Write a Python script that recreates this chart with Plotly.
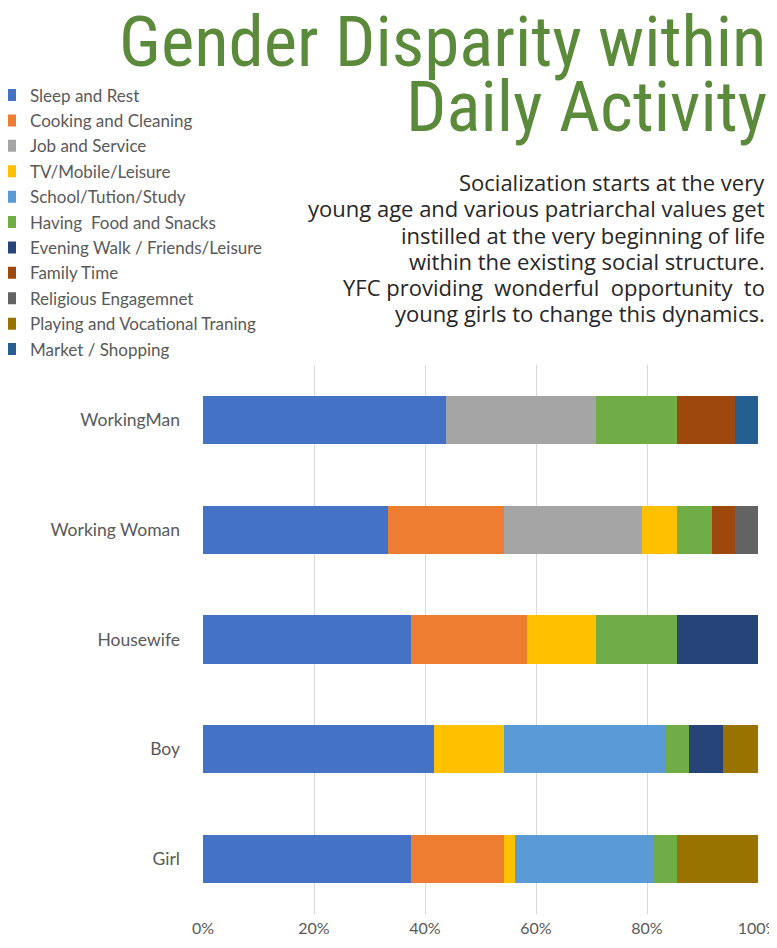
import plotly.graph_objects as go

# Hours per day (stack normalised to 100%)
categories = ["WorkingMan", "Working Woman", "Housewife", "Boy", "Girl"]

activities = [
    "Sleep and Rest",
    "Cooking and Cleaning",
    "Job and Service",
    "TV/Mobile/Leisure",
    "School/Tution/Study",
    "Having  Food and Snacks",
    "Evening Walk / Friends/Leisure",
    "Family Time",
    "Religious Engagemnet",
    "Playing and Vocational Traning",
    "Market / Shopping",
]

sleep_rest      = [10.5, 8.0, 9.0, 10.0, 9.0]
cooking         = [0.0, 5.0, 5.0, 0.0, 4.0]
job_service     = [6.5, 6.0, 0.0, 0.0, 0.0]
tv_mobile       = [0.0, 1.5, 3.0, 3.0, 0.5]
school_study    = [0.0, 0.0, 0.0, 7.0, 6.0]
food_snacks     = [3.5, 1.5, 3.5, 1.0, 1.0]
evening_walk    = [0.0, 0.0, 3.5, 1.5, 0.0]
family_time     = [2.5, 1.0, 0.0, 0.0, 0.0]
religious       = [0.0, 1.0, 0.0, 0.0, 0.0]
playing_voc     = [0.0, 0.0, 0.0, 1.5, 3.5]
market_shopping = [1.0, 0.0, 0.0, 0.0, 0.0]

series = [sleep_rest, cooking, job_service, tv_mobile, school_study, food_snacks,
          evening_walk, family_time, religious, playing_voc, market_shopping]

colors = ["#4472C4", "#ED7D31", "#A5A5A5", "#FFC000", "#5B9BD5", "#70AD47",
          "#264478", "#9E480E", "#636363", "#997300", "#255E91"]

tick_vals = [0, 20, 40, 60, 80, 100]
tick_text = ["0%", "20%", "40%", "60%", "80%", "100%"]

title_lines = ["Gender Disparity within", "Daily Activity"]
para_lines = [
    "Socialization starts at the very",
    "young age and various patriarchal values get",
    "instilled at the very beginning of life",
    "within the existing social structure.",
    "YFC providing  wonderful  opportunity  to",
    "young girls to change this dynamics.",
]

# the page body has an 8px margin, so the figure is offset by it
OFF = 8
W, H = 777 - OFF, 948 - 2 * OFF - 4
ML, MR, MT, MB = 195, 19, 357, 22
PW, PH = W - ML - MR, H - MT - MB


def px_x(x):
    return (x - OFF - ML) / PW


def px_y(y):
    return (H - MB - (y - OFF)) / PH


fig = go.Figure()
for name, vals, col in zip(activities, series, colors):
    fig.add_trace(go.Bar(
        y=categories, x=vals, name=name, orientation="h",
        marker=dict(color=col, line=dict(width=0)),
        legendgroup=name,
    ))

annotations = []
title_y = [41, 107]
for line, yy in zip(title_lines, title_y):
    annotations.append(dict(
        text=line, xref="paper", yref="paper", x=px_x(769), y=px_y(yy),
        xanchor="right", yanchor="middle", showarrow=False,
        font=dict(family="Roboto Condensed, Roboto, sans-serif", size=71, color="#5B8A3A"),
    ))
para_y = [181.5, 207.5, 234.5, 260.5, 286.5, 312.5]
for line, yy in zip(para_lines, para_y):
    annotations.append(dict(
        text=line, xref="paper", yref="paper", x=px_x(767), y=px_y(yy),
        xanchor="right", yanchor="middle", showarrow=False,
        font=dict(family="Open Sans, sans-serif", size=22, color="#262626"),
    ))

fig.update_layout(
    width=W, height=H,
    barmode="stack", barnorm="percent", bargap=0.56,
    margin=dict(l=ML, r=MR, t=MT, b=MB, autoexpand=False),
    plot_bgcolor="white", paper_bgcolor="white",
    font=dict(family="Lato, sans-serif", color="#595959"),
    showlegend=True,
    legend=dict(
        x=px_x(-10), y=px_y(77.5), xanchor="left", yanchor="top",
        traceorder="grouped", tracegroupgap=0.3,
        font=dict(family="Lato, sans-serif", size=17, color="#595959"),
        itemwidth=30, bgcolor="rgba(0,0,0,0)",
    ),
    xaxis=dict(
        range=[0, 100], tickvals=tick_vals, ticktext=tick_text,
        showgrid=True, gridcolor="#D9D9D9", gridwidth=1,
        zeroline=False, showline=False, ticks="",
        ticklabelstandoff=3, ticklabeloverflow="allow",
        tickfont=dict(family="Lato, sans-serif", size=16, color="#595959"),
    ),
    yaxis=dict(
        autorange="reversed", showgrid=False, showline=False, ticks="",
        ticklabelstandoff=22,
        tickfont=dict(family="Lato, sans-serif", size=17.5, color="#595959"),
    ),
    annotations=annotations,
)

fig.write_html("out.html")
